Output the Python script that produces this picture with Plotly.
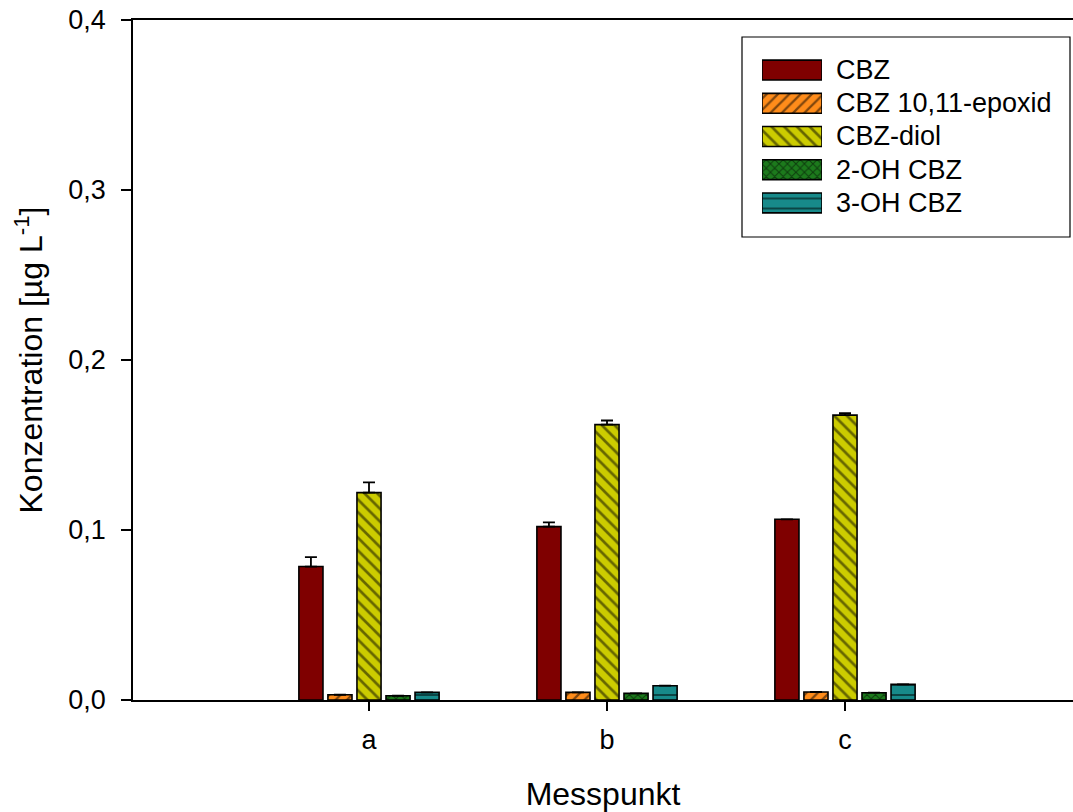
import plotly.graph_objects as go

# Messpunkte und Konzentrationen [µg/L]
categories = ["a", "b", "c"]
series_names = ["CBZ", "CBZ 10,11-epoxid", "CBZ-diol", "2-OH CBZ", "3-OH CBZ"]

cbz = [0.0785, 0.1020, 0.1063]
epoxid = [0.0031, 0.0045, 0.0047]
diol = [0.1220, 0.1620, 0.1676]
oh2 = [0.0025, 0.0039, 0.0043]
oh3 = [0.0045, 0.0084, 0.0092]

cbz_err = [0.0055, 0.0025, 0.0]
epoxid_err = [0.0, 0.0, 0.0]
diol_err = [0.0060, 0.0024, 0.0012]
oh2_err = [0.0, 0.0, 0.0]
oh3_err = [0.0, 0.0, 0.0]

y_ticks = [0.0, 0.1, 0.2, 0.3, 0.4]

values = [cbz, epoxid, diol, oh2, oh3]
errors = [cbz_err, epoxid_err, diol_err, oh2_err, oh3_err]

fills = ["#7f0000", "#ff8c1a", "#cccc00", "#1c7a1c", "#178a8a"]
patterns = [
    dict(shape=""),
    dict(shape="/", fgcolor="black", size=8, solidity=0.28),
    dict(shape="\\", fgcolor="black", size=9, solidity=0.3),
    dict(shape="x", fgcolor="black", size=6, solidity=0.3),
    dict(shape="-", fgcolor="black", size=10, solidity=0.2),
]

FONT = "Arial, Liberation Sans, sans-serif"

fig = go.Figure()

for name, vals, errs, col, pat in zip(series_names, values, errors, fills, patterns):
    fig.add_trace(go.Bar(
        x=categories, y=vals, name=name,
        marker=dict(color=col, line=dict(color="black", width=1.6), pattern=pat),
        error_y=dict(type="data", symmetric=False, array=errs,
                     arrayminus=[0] * len(errs), color="black",
                     thickness=1.8, width=6, visible=True),
        showlegend=False,
    ))

# Legend swatches drawn as horizontal bars on a small inset axis
for i, (name, col, pat) in enumerate(zip(series_names, fills, patterns)):
    fig.add_trace(go.Bar(
        x=[1], y=[i], base=[0], orientation="h", width=0.6, offset=-0.3,
        xaxis="x2", yaxis="y2",
        marker=dict(color=col, line=dict(color="black", width=1.6), pattern=pat),
        showlegend=False, hoverinfo="skip",
    ))

# Plot area geometry (pixels)
L, R, T, B = 133, 1073, 20, 700
W, H = R - L, B - T


def px(x):
    return (x - L) / W


def py(y):
    return (B - y) / H


row_top, row_bot = 53.5, 219.5
row_pitch = (row_bot - row_top) / 5

fig.update_layout(
    width=1073, height=812,
    margin=dict(l=L, r=1073 - R, t=T, b=812 - B),
    paper_bgcolor="white", plot_bgcolor="white",
    separators=",.",
    font=dict(family=FONT, color="black", size=27),
    barmode="group", bargap=0.39, bargroupgap=0.17,
    showlegend=False,
    xaxis=dict(
        range=[-0.9916, 2.958], showgrid=False, zeroline=False,
        showline=True, linecolor="black", linewidth=1.5, mirror=True,
        ticks="outside", ticklen=9, tickwidth=1.5, tickcolor="black",
        tickfont=dict(size=27), ticklabelstandoff=6,
        title=dict(text="Messpunkt", font=dict(size=32), standoff=33),
    ),
    yaxis=dict(
        range=[0, 0.4], tickvals=y_ticks, tickformat=".1f",
        showgrid=False, zeroline=False,
        showline=True, linecolor="black", linewidth=1.5,
        ticks="outside", ticklen=10, tickwidth=1.5, tickcolor="black",
        tickfont=dict(size=27), ticklabelstandoff=10,
        title=dict(text="Konzentration [µg L<sup>-1</sup>]", font=dict(size=32), standoff=16),
    ),
    xaxis2=dict(domain=[px(762), px(822)], range=[0, 1], anchor="y2",
                visible=False, fixedrange=True),
    yaxis2=dict(domain=[py(row_bot), py(row_top)], range=[4.5, -0.5], anchor="x2",
                visible=False, fixedrange=True),
)

# Legend frame
fig.add_shape(type="rect", xref="paper", yref="paper",
              x0=px(742), x1=px(1070), y0=py(237), y1=py(37),
              line=dict(color="black", width=1.2), fillcolor="rgba(0,0,0,0)",
              layer="below")

# Legend labels
for i, name in enumerate(series_names):
    fig.add_annotation(x=px(834), y=py(row_top + row_pitch * (i + 0.5)),
                       xref="paper", yref="paper", text=name,
                       showarrow=False, xanchor="left", yanchor="middle",
                       font=dict(size=27, family=FONT, color="black"))

fig.write_html("out.html")
